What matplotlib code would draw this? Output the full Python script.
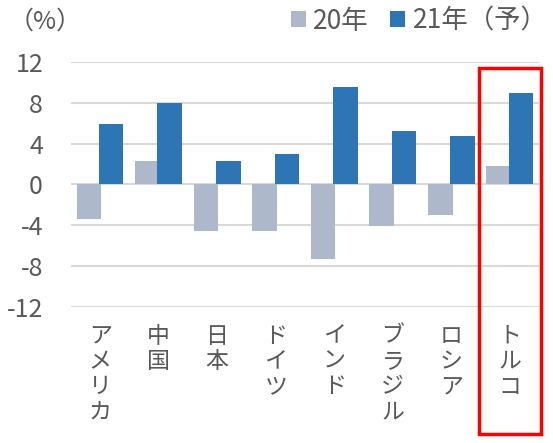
import matplotlib
matplotlib.use("Agg")
import matplotlib.pyplot as plt
import matplotlib.patches as patches
import numpy as np

plt.rcParams['font.family'] = ['Noto Sans CJK JP', 'DejaVu Sans']

countries = ["アメリカ", "中国", "日本", "ドイツ", "インド", "ブラジル", "ロシア", "トルコ"]
growth_2020 = [-3.4, 2.3, -4.6, -4.6, -7.3, -4.1, -3.0, 1.8]
growth_2021 = [5.9, 8.0, 2.3, 3.0, 9.5, 5.2, 4.7, 9.0]
yticks = [-12, -8, -4, 0, 4, 8, 12]

c20 = "#ADB9CA"
c21 = "#2E75B6"
txt = "#595959"

fig = plt.figure(figsize=(5.53, 4.43), dpi=100)
ax = fig.add_axes([0.128, 0.308, 0.847, 0.552])

x = np.arange(len(countries))
w = 0.42
ax.bar(x - 0.19, growth_2020, w, color=c20, label="20年", zorder=2)
ax.bar(x + 0.19, growth_2021, w, color=c21, label="21年（予）", zorder=3)

ax.set_xlim(-0.5, len(countries) - 0.5)
ax.set_ylim(-12, 12)
ax.set_yticks(yticks)
ax.set_yticklabels([str(v) for v in yticks], fontsize=18, color=txt)
ax.yaxis.grid(True, color="#D9D9D9", lw=1.5, zorder=0)
ax.set_axisbelow(True)
for s in ax.spines.values():
    s.set_visible(False)
ax.tick_params(length=0)
ax.tick_params(axis="y", pad=20)

ax.set_xticks(x)
ax.set_xticklabels(["\n".join(c) for c in countries], fontsize=16.5, color=txt,
                   va="top", linespacing=1.13)
ax.tick_params(axis="x", pad=13)

fig.text(0.015, 0.952, "（%）", fontsize=18, color=txt, va="center")

ax.legend(loc="center right", bbox_to_anchor=(0.99, 0.952), bbox_transform=fig.transFigure,
          ncol=2, frameon=False, fontsize=19, labelcolor=txt, handlelength=0.55,
          handleheight=0.55, handletextpad=0.3, columnspacing=0.8, borderaxespad=0,
          borderpad=0)

rect = patches.Rectangle((479 / 553, 1 - 434 / 443), 62 / 553, 366 / 443,
                         transform=fig.transFigure, fill=False, edgecolor="#FF0000",
                         lw=2.5, clip_on=False)
fig.patches.append(rect)

fig.savefig("out.png", dpi=100)
